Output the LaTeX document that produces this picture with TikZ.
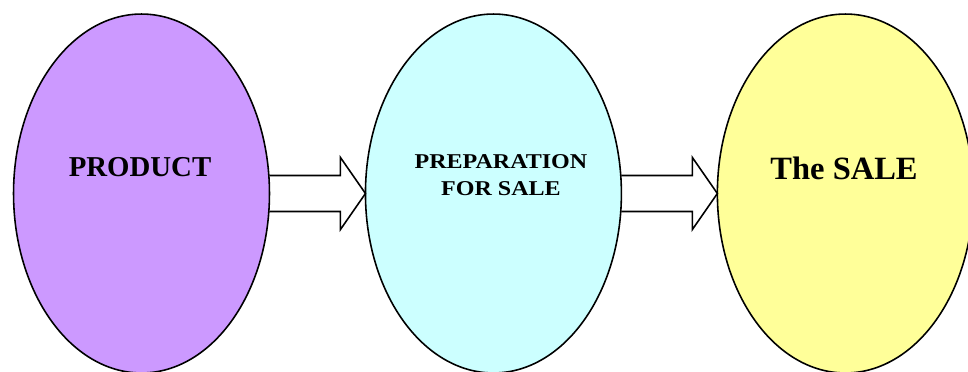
\documentclass[tikz,border=0pt]{standalone}
\usepackage{fontspec}
\setmainfont{Liberation Serif}
\usetikzlibrary{shapes.geometric,positioning}
\definecolor{lilac}{HTML}{CC99FF}
\definecolor{paleCyan}{HTML}{CCFFFF}
\definecolor{paleYellow}{HTML}{FFFF99}

\begin{document}
\begin{tikzpicture}[x=0.02cm,y=-0.02cm,node distance=1.92cm,line width=0.9pt,
  stage/.style={ellipse,draw,inner sep=0pt,outer sep=0pt,minimum width=5.12cm,minimum height=7.18cm},
  lbl/.style={inner sep=0pt,align=center}]

  \useasboundingbox (0,0) rectangle (968,372);
  \clip (0,0) rectangle (968,372);

  \node[stage, fill=lilac] (1) at (141.5,193.5) {};
  \node[stage, fill=paleCyan] (2) [right = of 1] {};
  \node[stage, fill=paleYellow] (3) [right = of 2] {};

  \node[lbl, font=\bfseries\fontsize{16.4}{19}\selectfont] (4) at ([shift={(-1.5,-26.5)}]1.center) {PRODUCT};
  \node[lbl, font=\bfseries\fontsize{12}{15.5}\selectfont, xscale=1.14, transform shape] (5) at ([shift={(7.5,-18.5)}]2.center) {PREPARATION\\FOR SALE};
  \node[lbl, font=\bfseries\fontsize{18.5}{22}\selectfont] (6) at ([shift={(-1.3,-25.5)}]3.center) {The SALE};

  % block arrows between the stages
  \foreach \a/\b in {1/2, 2/3}
    \draw[line join=miter] ([shift={(0,-18)}]\a.east) -- ([shift={(-25,-18)}]\b.west) -- ([shift={(-25,-36)}]\b.west)
      -- (\b.west) -- ([shift={(-25,36)}]\b.west) -- ([shift={(-25,18)}]\b.west) -- ([shift={(0,18)}]\a.east);
\end{tikzpicture}
\end{document}
